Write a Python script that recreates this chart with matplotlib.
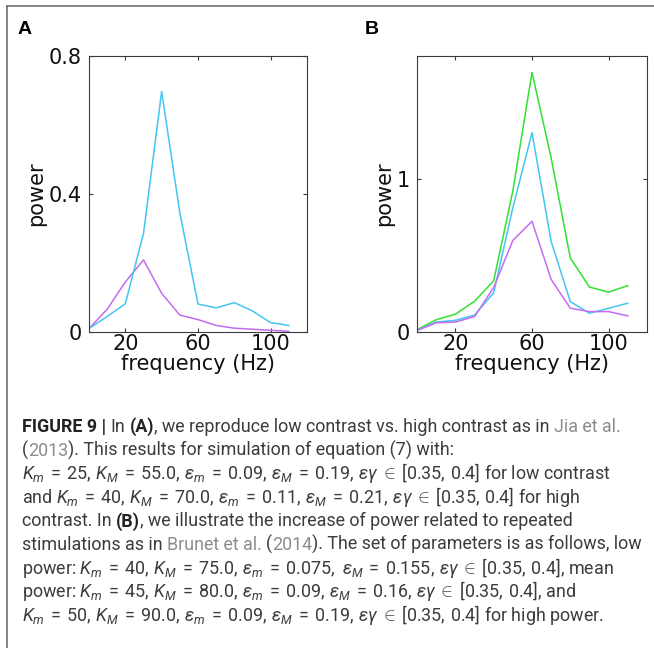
import matplotlib
matplotlib.use("Agg")
import matplotlib.pyplot as plt
from matplotlib.lines import Line2D

# spectra (power vs frequency)
freq = [0, 10, 20, 30, 40, 50, 60, 70, 80, 90, 100, 110]

a_high = [0.01, 0.045, 0.082, 0.286, 0.697, 0.345, 0.081, 0.07, 0.085, 0.061, 0.027, 0.019]
a_low = [0.01, 0.066, 0.145, 0.209, 0.112, 0.049, 0.036, 0.019, 0.011, 0.008, 0.005, 0.002]

b_high = [0.015, 0.08, 0.116, 0.2, 0.334, 0.92, 1.693, 1.135, 0.482, 0.293, 0.26, 0.303]
b_mean = [0.01, 0.065, 0.076, 0.11, 0.255, 0.81, 1.30, 0.59, 0.198, 0.122, 0.155, 0.188]
b_low = [0.01, 0.06, 0.065, 0.1, 0.29, 0.597, 0.722, 0.343, 0.155, 0.133, 0.133, 0.105]

x_ticks = [20, 60, 100]
a_yticks = [0, 0.4, 0.8]
b_yticks = [0, 1]

CYAN = "#44c6f2"
VIOLET = "#c46cf0"
GREEN = "#33e030"

W, H = 654, 648
fig = plt.figure(figsize=(W / 100, H / 100), dpi=100)
fig.patch.set_facecolor("white")


def px_axes(left, top, right, bottom):
    return fig.add_axes([left / W, 1 - bottom / H, (right - left) / W, (bottom - top) / H])


def style_axes(ax, yticks, ylim):
    ax.set_xlim(0, 120)
    ax.set_ylim(*ylim)
    ax.set_xticks(x_ticks)
    ax.set_yticks(yticks)
    ax.set_yticklabels([("%g" % v) for v in yticks])
    for s in ax.spines.values():
        s.set_color("#3a3a3a")
        s.set_linewidth(0.8)
    ax.tick_params(direction="in", length=3, width=0.8, color="#3a3a3a",
                   top=True, right=True, labelsize=15, labelcolor="#111111")
    ax.tick_params(axis="x", pad=1.5)
    ax.tick_params(axis="y", pad=5)
    ax.set_xlabel("frequency (Hz)", fontsize=15, color="#111111", labelpad=0)
    ax.set_ylabel("power", fontsize=15, color="#111111", labelpad=2)


axA = px_axes(89, 56, 307, 332)
axA.plot(freq, a_low, color=VIOLET, lw=1.1)
axA.plot(freq, a_high, color=CYAN, lw=1.1)
style_axes(axA, a_yticks, (0, 0.8))

axB = px_axes(417, 56, 647, 332)
axB.plot(freq, b_high, color=GREEN, lw=1.1)
axB.plot(freq, b_mean, color=CYAN, lw=1.1)
axB.plot(freq, b_low, color=VIOLET, lw=1.1)
style_axes(axB, b_yticks, (0, 1.8))

fig.text(18 / W, 1 - 30 / H, "A", fontsize=14, fontweight="bold",
         family="Liberation Sans", va="center", ha="left")
fig.text(365 / W, 1 - 30 / H, "B", fontsize=14, fontweight="bold",
         family="Liberation Sans", va="center", ha="left")

# outer frame (top and left edge)
frame = "#6e6e6e"
fig.add_artist(Line2D([7 / W, 1], [1 - 6 / H, 1 - 6 / H], color=frame, lw=1.2,
                      transform=fig.transFigure))
fig.add_artist(Line2D([7 / W, 7 / W], [0, 1 - 6 / H], color=frame, lw=1.2,
                      transform=fig.transFigure))

# caption
plt.rcParams["mathtext.fontset"] = "custom"
plt.rcParams["mathtext.rm"] = "Roboto"
plt.rcParams["mathtext.it"] = "Roboto:italic"
plt.rcParams["mathtext.bf"] = "Roboto:bold"

CAP_SIZE = 12.9
DARK = "#3c3c3c"
LINK = "#8c8c8c"
styles = {
    "n": dict(color=DARK, fontweight="normal"),
    "b": dict(color="#222222", fontweight="bold"),
    "g": dict(color=LINK, fontweight="normal"),
}


def params(km, kM, em, eM, sep=r",\,"):
    eq = r"\:=\:"
    return (r"$K_m" + eq + km + r",\,K_M" + eq + kM + r",\,\epsilon_m" + eq + em + sep
            + r"\epsilon_M" + eq + eM + r",\,\epsilon\gamma\:\in\:[0.35,\,0.4]$")


caption = [
    [("b", "FIGURE 9 |"), ("n", " In "), ("b", "(A)"),
     ("n", ", we reproduce low contrast vs. high contrast as in "), ("g", "Jia et al.")],
    [("n", "("), ("g", "2013"), ("n", "). This results for simulation of equation (7) with:")],
    [("n", params("25", "55.0", "0.09", "0.19") + " for low contrast")],
    [("n", "and " + params("40", "70.0", "0.11", "0.21") + " for high")],
    [("n", "contrast. In "), ("b", "(B)"),
     ("n", ", we illustrate the increase of power related to repeated")],
    [("n", "stimulations as in "), ("g", "Brunet et al."), ("n", " ("), ("g", "2014"),
     ("n", "). The set of parameters is as follows, low")],
    [("n", "power: " + params("40", "75.0", "0.075", "0.155", sep=r",\ ") + ", mean")],
    [("n", "power: " + params("45", "80.0", "0.09", "0.16") + ", and")],
    [("n", params("50", "90.0", "0.09", "0.19") + " for high power.")],
]

renderer = fig.canvas.get_renderer()


def text_width(s, kw):
    t = fig.text(0, 0, s, fontsize=CAP_SIZE, family="Roboto", **kw)
    w = t.get_window_extent(renderer).width
    t.remove()
    return w


def draw_caption_line(x0, y, segments):
    x = x0
    for key, s in segments:
        kw = styles[key]
        bar = text_width("||", kw)
        space = text_width("| |", kw) - bar
        adv = text_width("|" + s + "|", kw) - bar
        lead = len(s) - len(s.lstrip(" "))
        fig.text((x + lead * space) / W, 1 - y / H, s.strip(" "), fontsize=CAP_SIZE,
                 family="Roboto", ha="left", va="baseline", **kw)
        x += adv


for i, line in enumerate(caption):
    draw_caption_line(22, 432 + 23.6 * i, line)

fig.savefig("out.png", dpi=100, facecolor="white")
